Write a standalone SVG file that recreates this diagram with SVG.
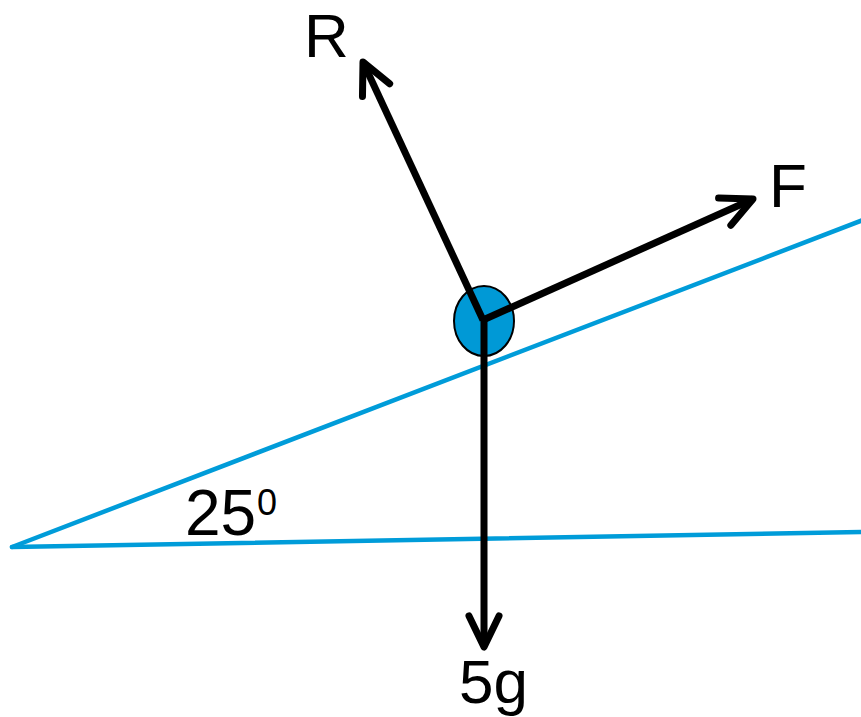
<svg xmlns="http://www.w3.org/2000/svg" width="861" height="717" viewBox="0 0 861 717">
<style>
.slope{stroke:#009CD9;stroke-width:4.5;fill:none;stroke-linecap:round}
.force{stroke:#000;stroke-width:7;fill:none;stroke-linecap:butt}
.lbl{font-family:"Liberation Sans",Arial,sans-serif;font-size:62px;fill:#000}
</style>
<defs>
<marker id="head" markerUnits="userSpaceOnUse" orient="auto" markerWidth="60" markerHeight="60" refX="0" refY="0" viewBox="-40 -30 60 60" overflow="visible">
<path d="M-31,-15 L0,0 L-31,15" fill="none" stroke="#000" stroke-width="7" stroke-linecap="round" stroke-linejoin="round"/>
</marker>
</defs>
<rect width="861" height="717" fill="#fff"/>
<g id="incline">
<line class="slope" x1="12" y1="547" x2="863" y2="220"/>
<line class="slope" x1="12" y1="547" x2="863" y2="532"/>
</g>
<g id="particle">
<ellipse cx="484" cy="321" rx="30" ry="35" fill="#0099D6" stroke="#000" stroke-width="2"/>
</g>
<g id="connectors">
<line class="force" x1="483" y1="320" x2="363" y2="62" marker-end="url(#head)"/>
<line class="force" x1="483" y1="320" x2="753" y2="199" marker-end="url(#head)"/>
<line class="force" x1="484" y1="318" x2="484" y2="647" marker-end="url(#head)"/>
</g>
<g id="label-R"><text class="lbl" x="304" y="57">R</text></g>
<g id="label-F"><text class="lbl" x="769" y="207">F</text></g>
<g id="label-5g"><text class="lbl" x="459" y="703">5g</text></g>
<g id="label-angle"><text class="lbl" style="font-size:64px" x="185" y="535">25<tspan font-size="36" x="257" y="515">0</tspan></text></g>
</svg>
